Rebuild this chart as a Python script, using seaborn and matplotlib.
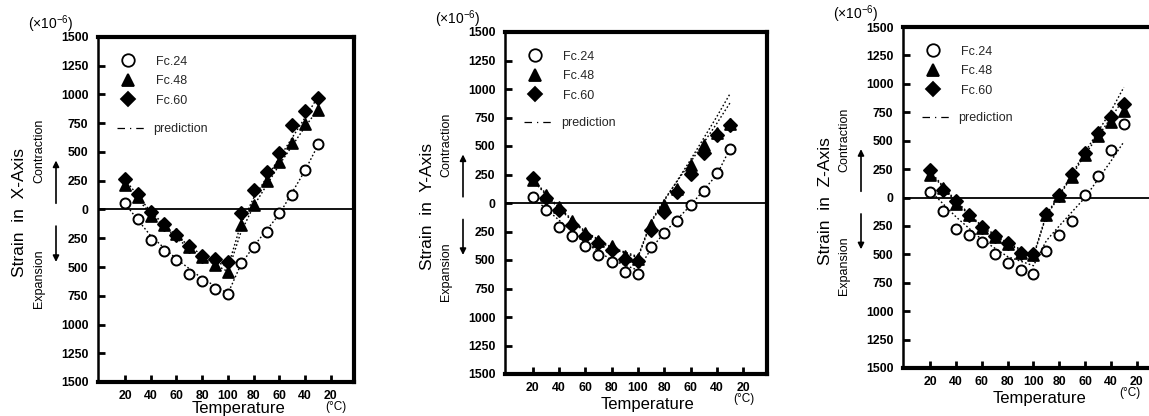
import numpy as np
import pandas as pd
import matplotlib
matplotlib.use("Agg")
import matplotlib.pyplot as plt
import seaborn as sns
from matplotlib.lines import Line2D

sns.set_theme(style="white")
plt.rcParams["font.family"] = ["Liberation Sans", "DejaVu Sans"]
plt.rcParams["mathtext.fontset"] = "custom"
plt.rcParams["mathtext.rm"] = "Liberation Sans"

# ---------------- data ----------------
# temperature path in degC travelled (heating 20->100, cooling 100->30)
path = [0, 10, 20, 30, 40, 50, 60, 70, 80, 90, 100, 110, 120, 130, 140, 150]
pred_path = [0, 20, 40, 60, 80, 90, 100, 120, 140, 150]
tick_pos = [0, 20, 40, 60, 80, 100, 120, 140, 160]
tick_labels = ["20", "40", "60", "80", "100", "80", "60", "40", "20"]
ytick_vals = [-1500, -1250, -1000, -750, -500, -250, 0, 250, 500, 750, 1000, 1250, 1500]
ytick_labels = [str(abs(v)) for v in ytick_vals]
series = ["Fc.24", "Fc.48", "Fc.60"]

# X-axis panel
x_fc24 = [60, -82, -265, -365, -440, -558, -625, -690, -733, -461, -324, -199, -32, 128, 347, 566]
x_fc48 = [210, 108, -53, -134, -215, -330, -412, -485, -543, -134, 35, 245, 409, 581, 742, 861]
x_fc60 = [269, 137, -23, -126, -222, -315, -405, -432, -455, -32, 172, 327, 493, 736, 858, 969]
x_pred24 = [50, -230, -430, -600, -730, -480, -320, -40, 340, 560]
x_pred48 = [220, -40, -250, -420, -540, -200, 30, 390, 720, 870]
x_pred60 = [260, -20, -230, -400, -500, -130, 100, 450, 800, 980]

# Y-axis panel
y_fc24 = [50, -58, -207, -291, -379, -457, -516, -606, -620, -385, -262, -154, -20, 102, 262, 475]
y_fc48 = [204, 73, -38, -154, -262, -335, -379, -466, -490, -189, -15, 125, 335, 510, 612, 691]
y_fc60 = [219, 44, -61, -189, -291, -350, -408, -495, -510, -233, -82, 96, 256, 437, 597, 680]
y_pred24 = [50, -150, -350, -500, -590, -400, -260, -20, 250, 480]
y_pred48 = [210, -40, -250, -390, -470, -160, 30, 360, 700, 880]
y_pred60 = [200, -50, -260, -400, -480, -170, 20, 380, 760, 960]

# Z-axis panel
z_fc24 = [47, -122, -273, -326, -392, -494, -573, -640, -674, -471, -331, -203, 23, 189, 416, 648]
z_fc48 = [198, 81, -58, -157, -267, -349, -413, -485, -506, -157, 9, 183, 378, 541, 663, 765]
z_fc60 = [241, 67, -35, -151, -262, -343, -398, -485, -500, -145, 23, 203, 395, 570, 712, 823]
z_pred24 = [60, -170, -370, -520, -600, -380, -250, 0, 320, 490]
z_pred48 = [220, -40, -260, -410, -520, -160, 10, 380, 700, 870]
z_pred60 = [230, -30, -250, -400, -510, -150, 20, 400, 760, 970]

axis_names = ["X-Axis", "Y-Axis", "Z-Axis"]

panels = [
    dict(name=axis_names[0], obs=[x_fc24, x_fc48, x_fc60], pred=[x_pred24, x_pred48, x_pred60],
         px=(98, 37, 256, 345), temp_x=0.547, temp_dy=27, degc_x=0.93),
    dict(name=axis_names[1], obs=[y_fc24, y_fc48, y_fc60], pred=[y_pred24, y_pred48, y_pred60],
         px=(505, 32, 262, 342), temp_x=0.542, temp_dy=30, degc_x=0.91),
    dict(name=axis_names[2], obs=[z_fc24, z_fc48, z_fc60], pred=[z_pred24, z_pred48, z_pred60],
         px=(903, 27, 257, 341), temp_x=0.533, temp_dy=30, degc_x=0.883),
]

W, H = 1149, 416
fig = plt.figure(figsize=(W / 100, H / 100), dpi=100)
fig.patch.set_facecolor("white")

marker_map = {"Fc.24": "o", "Fc.48": "^", "Fc.60": "D"}
face_map = {"Fc.24": "white", "Fc.48": "black", "Fc.60": "black"}
size_map = {"Fc.24": 52, "Fc.48": 60, "Fc.60": 44}

for p in panels:
    left, top, w, h = p["px"]
    ax = fig.add_axes([left / W, (H - top - h) / H, w / W, h / H])
    ax.set_facecolor("white")

    # prediction lines
    for vals in p["pred"]:
        dfp = pd.DataFrame({"path": pred_path, "strain": vals})
        sns.lineplot(data=dfp, x="path", y="strain", ax=ax, color="black",
                     linestyle=(0, (1.2, 1.6)), linewidth=1.0, legend=False)

    # zero line
    ax.axhline(0, color="black", linewidth=1.3, zorder=1)

    # observations
    for name, vals in zip(["Fc.60", "Fc.48", "Fc.24"], [p["obs"][2], p["obs"][1], p["obs"][0]]):
        dfo = pd.DataFrame({"path": path, "strain": vals})
        sns.scatterplot(data=dfo, x="path", y="strain", ax=ax, marker=marker_map[name],
                        color=face_map[name], edgecolor="black", linewidth=1.4,
                        s=size_map[name], zorder=3, legend=False)

    ax.set_xlim(-21, 178)
    ax.set_ylim(-1500, 1500)
    ax.set_xticks(tick_pos)
    ax.set_xticklabels(tick_labels)
    ax.set_yticks(ytick_vals)
    ax.set_yticklabels(ytick_labels)
    ax.set_xlabel("")
    ax.set_ylabel("")
    ax.tick_params(axis="both", direction="in", length=5, width=2, color="black",
                   labelsize=8.8)
    ax.tick_params(axis="x", pad=6)
    ax.tick_params(axis="y", pad=7)
    ax.tick_params(left=True, bottom=True, right=False, top=False)
    for lab in ax.get_xticklabels() + ax.get_yticklabels():
        lab.set_fontweight("bold")
        lab.set_color("black")
    for side in ["top", "right", "bottom"]:
        ax.spines[side].set_linewidth(3.0)
        ax.spines[side].set_color("black")
    ax.spines["left"].set_linewidth(1.8)
    ax.spines["left"].set_color("black")

    # legend
    handles = [Line2D([], [], linestyle="none", marker=marker_map[s],
                      markersize=9 if s != "Fc.60" else 7,
                      markerfacecolor=face_map[s], markeredgecolor="black", markeredgewidth=1.3)
               for s in series]
    leg1 = ax.legend(handles, series, loc="upper left", bbox_to_anchor=(0.065, 0.96),
                     frameon=False, fontsize=9, labelspacing=0.6, handletextpad=1.6,
                     handlelength=1.3, borderaxespad=0)
    ax.add_artist(leg1)
    pred_handle = Line2D([], [], color="black", linewidth=0.9, dashes=(6, 4, 1, 4))
    ax.legend([pred_handle], ["prediction"], loc="upper left", bbox_to_anchor=(0.055, 0.765),
              frameon=False, fontsize=9, handlelength=2.4, handletextpad=0.5, borderaxespad=0)

    # axis labels
    ax.text(-78 / w, 0.49, "Strain  in  " + p["name"], transform=ax.transAxes, rotation=90,
            ha="center", va="center", fontsize=12.5, color="black")
    ax.text(-59 / w, 0.67, "Contraction", transform=ax.transAxes, rotation=90,
            ha="center", va="center", fontsize=9, color="black")
    ax.text(-59 / w, 0.30, "Expansion", transform=ax.transAxes, rotation=90,
            ha="center", va="center", fontsize=9, color="black")
    ax.annotate("", xy=(-42 / w, 0.65), xytext=(-42 / w, 0.51), xycoords="axes fraction",
                arrowprops=dict(arrowstyle="-|>", color="black", lw=1.2, mutation_scale=9))
    ax.annotate("", xy=(-42 / w, 0.34), xytext=(-42 / w, 0.46), xycoords="axes fraction",
                arrowprops=dict(arrowstyle="-|>", color="black", lw=1.2, mutation_scale=9))
    ax.text(-47 / w, 1 + 13 / h, "(×10$^{-6}$)", transform=ax.transAxes,
            ha="center", va="center", fontsize=10, color="black")
    ax.text(p["temp_x"], -p["temp_dy"] / h, "Temperature", transform=ax.transAxes,
            ha="center", va="center", fontsize=12, color="black")
    ax.text(p["degc_x"], -25 / h, "(°C)", transform=ax.transAxes,
            ha="center", va="center", fontsize=8.5, color="black")

fig.savefig("out.png", dpi=100, facecolor="white")
